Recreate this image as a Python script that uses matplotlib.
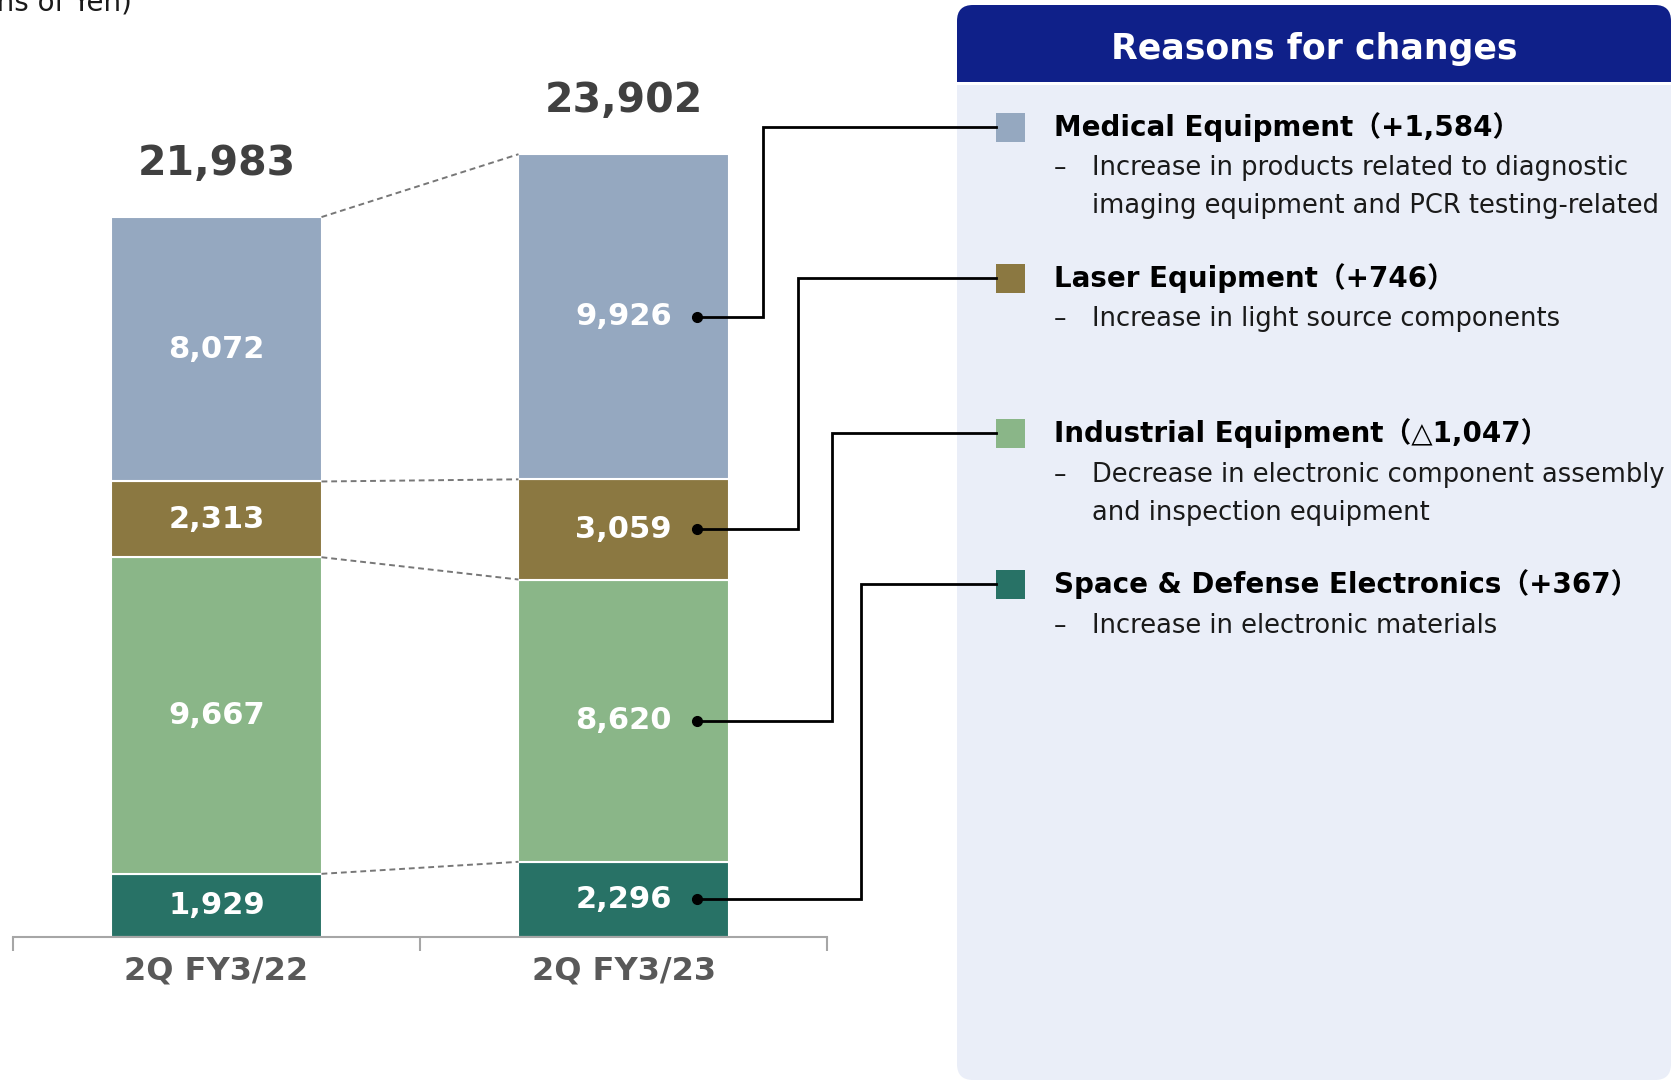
import numpy as np
import matplotlib
matplotlib.use('Agg')
from matplotlib import pyplot as plt
from matplotlib.patches import FancyBboxPatch, Rectangle

# data (millions of yen)
periods = ['2Q FY3/22', '2Q FY3/23']
segments = ['Space & Defense Electronics', 'Industrial Equipment', 'Laser Equipment', 'Medical Equipment']
fy22 = [1929, 9667, 2313, 8072]
fy23 = [2296, 8620, 3059, 9926]
totals = [21983, 23902]
colors = ['#287266', '#8AB688', '#8B7841', '#95A8C0']

# legend panel texts, top to bottom
leg_names = ['Medical Equipment', 'Laser Equipment', 'Industrial Equipment', 'Space & Defense Electronics']
leg_changes = ['+1,584', '+746', '△1,047', '+367']
leg_notes = [['Increase in products related to diagnostic', 'imaging equipment and PCR testing-related'],
             ['Increase in light source components'],
             ['Decrease in electronic component assembly', 'and inspection equipment'],
             ['Increase in electronic materials']]
leg_colors = ['#95A8C0', '#8B7841', '#8AB688', '#287266']
leg_seg = [3, 2, 1, 0]  # index into segments

W, H = 1677, 1083
FONT = ['DejaVu Sans', 'Noto Sans CJK JP']
plt.rcParams['font.family'] = FONT

fig = plt.figure(figsize=(W / 100, H / 100), dpi=100)
ax = fig.add_axes([13 / W, (H - 937) / H, 814 / W, 937 / H])
ax.set_xlim(-0.5, 1.5)
ax.set_ylim(0, 28611)
ax.patch.set_alpha(0)

data = np.array([fy22, fy23])
x = np.arange(len(periods))
bw = 0.516
bottoms = np.zeros(len(periods))
for i, seg in enumerate(segments):
    vals = data[:, i]
    ax.bar(x, vals, bw, bottom=bottoms, color=colors[i], edgecolor='white', linewidth=1.5)
    for j in range(len(periods)):
        ax.text(x[j], bottoms[j] + vals[j] / 2, f'{vals[j]:,}', ha='center', va='center',
                color='white', fontsize=22, fontweight='bold')
    bottoms += vals

# dashed lines between the bars at the segment boundaries
cum = np.cumsum(data, axis=1)
for k in range(len(segments) - 1):
    ax.plot([x[0] + bw / 2, x[1] - bw / 2], [cum[0, k], cum[1, k]], ls=(0, (3, 2)), color='#777777', lw=1.4)
ax.plot([x[0] + bw / 2, x[1] - bw / 2], totals, ls=(0, (3, 2)), color='#777777', lw=1.4)

for j in range(len(periods)):
    ax.annotate(f'{totals[j]:,}', (x[j], totals[j]), xytext=(0, 38), textcoords='offset points',
                ha='center', va='center', fontsize=29.5, fontweight='bold', color='#404040')

for s in ['top', 'right', 'left']:
    ax.spines[s].set_visible(False)
ax.spines['bottom'].set_color('#A6A6A6')
ax.spines['bottom'].set_linewidth(1.5)
ax.set_yticks([])
ax.set_xticks([-0.5, 0.5, 1.5])
ax.set_xticklabels([])
ax.tick_params(axis='x', length=10, width=1.5, color='#A6A6A6')
ax.set_xticks(x, minor=True)
ax.set_xticklabels(periods, minor=True, fontsize=23, fontweight='bold', color='#595959')
ax.tick_params(axis='x', which='minor', length=0, pad=13)

# overlay in pixel coordinates for the panel and connectors
ov = fig.add_axes([0, 0, 1, 1])
ov.set_xlim(0, W)
ov.set_ylim(H, 0)
ov.axis('off')
ov.patch.set_alpha(0)

ov.text(132, 10, '(Millions of Yen)', ha='right', va='baseline', fontsize=20, color='#1a1a1a')

ov.add_patch(FancyBboxPatch((957, 5), 714, 1075, boxstyle='round,pad=0,rounding_size=16',
                            facecolor='#EAEEF8', edgecolor='none'))
ov.add_patch(FancyBboxPatch((957, 5), 714, 100, boxstyle='round,pad=0,rounding_size=16',
                            facecolor='#0F2089', edgecolor='none'))
ov.add_patch(Rectangle((957, 82), 714, 3, facecolor='white', edgecolor='none'))
ov.add_patch(Rectangle((957, 85), 714, 40, facecolor='#EAEEF8', edgecolor='none'))
ov.text(1314, 49, 'Reasons for changes', ha='center', va='center', color='white',
        fontsize=25, fontweight='bold')

title_y = [127, 278, 433, 584]
note_y = [[168, 206], [319], [475, 513], [626]]
vline_x = [763, 798, 832, 861]
dot_x = 1.18

ax_mid23 = cum[1] - data[1] / 2
for n in range(len(leg_names)):
    ty = title_y[n]
    ov.add_patch(Rectangle((996, ty - 14.5), 29, 29, facecolor=leg_colors[n], edgecolor='none'))
    ov.text(1054, ty, f'{leg_names[n]}（{leg_changes[n]}）', ha='left', va='center',
            fontsize=20, fontweight='bold', color='black')
    for m, line in enumerate(leg_notes[n]):
        ny = note_y[n][m]
        if m == 0:
            ov.text(1054, ny, '–', ha='left', va='center', fontsize=18, color='#1a1a1a')
        ov.text(1092, ny, line, ha='left', va='center', fontsize=18.5, color='#1a1a1a')
    # connector from the bar segment to the legend square
    k = leg_seg[n]
    px, py = ax.transData.transform((dot_x, ax_mid23[k]))
    py = H - py
    ov.plot([px, vline_x[n], vline_x[n], 996], [py, py, ty, ty], color='black', lw=2,
            solid_joinstyle='miter')
    ov.plot(px, py, 'o', color='black', ms=7)

fig.savefig('out.png', dpi=100)
